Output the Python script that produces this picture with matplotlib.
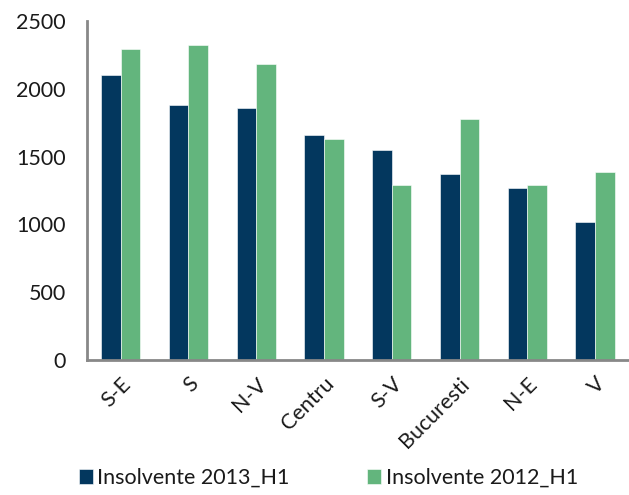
import numpy as np
import matplotlib.pyplot as plt

regions = ["S-E", "S", "N-V", "Centru", "S-V", "Bucuresti", "N-E", "V"]
insolvente_2013_h1 = [2100, 1880, 1862, 1658, 1547, 1370, 1267, 1020]
insolvente_2012_h1 = [2297, 2326, 2188, 1631, 1292, 1776, 1289, 1387]
yticks = [0, 500, 1000, 1500, 2000, 2500]

plt.rcParams['font.family'] = ['Lato', 'DejaVu Sans']

fig = plt.figure(figsize=(6.29, 4.95), dpi=100)
ax = fig.add_axes([0.138, 0.273, 0.862, 0.684])

x = np.arange(len(regions))
w = 0.29
ax.bar(x - w/2, insolvente_2013_h1, w, color="#03375e", label="Insolvente 2013_H1",
       edgecolor="#ffffff", linewidth=0.4)
ax.bar(x + w/2, insolvente_2012_h1, w, color="#63b57d", label="Insolvente 2012_H1",
       edgecolor="#ffffff", linewidth=0.4)

ax.set_xlim(-0.5, len(regions) - 0.5)
ax.set_ylim(0, 2500)
ax.set_yticks(yticks)
ax.set_yticklabels([str(v) for v in yticks], fontsize=15.5, color="#1a1a1a")
ax.set_xticks(x)
ax.set_xticklabels(regions, rotation=45, ha="right", rotation_mode="anchor",
                   fontsize=15.5, color="#1a1a1a")
ax.tick_params(length=0)
ax.tick_params(axis="y", pad=15)
ax.tick_params(axis="x", pad=10)

for s in ["top", "right"]:
    ax.spines[s].set_visible(False)
for s in ["left", "bottom"]:
    ax.spines[s].set_color("#888888")
    ax.spines[s].set_linewidth(2)

fig.legend(loc="lower left", bbox_to_anchor=(0.095, -0.025), ncol=2, frameon=False,
           fontsize=15.5, handlelength=0.65, handleheight=0.65, handletextpad=0.2,
           columnspacing=3.6, labelcolor="#1a1a1a")

fig.savefig("out.png", dpi=100)
